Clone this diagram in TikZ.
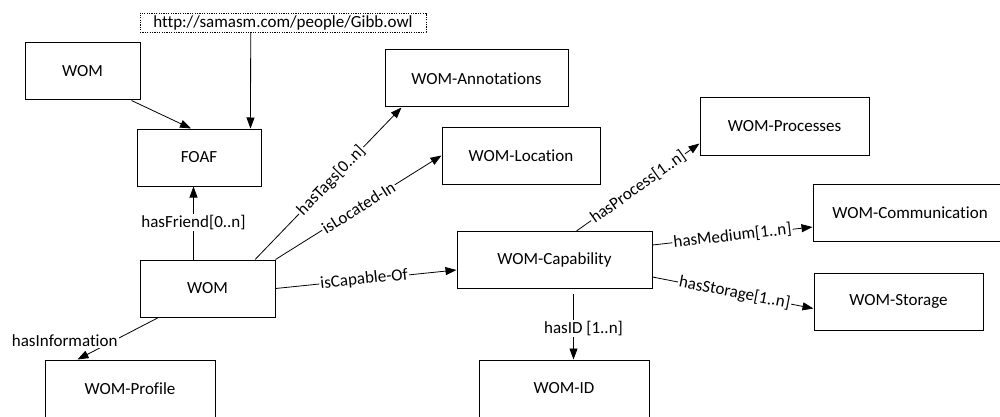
\documentclass[tikz,border=0pt]{standalone}
\usepackage{fontspec}
\setmainfont{Carlito}[Ligatures=NoCommon]
\usetikzlibrary{arrows.meta,calc}
\begin{document}
\begin{tikzpicture}[x=1pt,y=-1pt,
  box/.style={draw=black,line width=1pt,fill=white,minimum height=57pt,inner sep=0pt,
    font=\fontsize{17}{20}\selectfont},
  urlbox/.style={draw=black,line width=0.6pt,dash pattern=on 1.2pt off 1.2pt,minimum height=19pt,inner sep=0pt,
    font=\fontsize{17}{20}\selectfont},
  conn/.style={line width=0.8pt,-{Triangle[length=11pt,width=8pt]}},
  lbl/.style={fill=white,inner sep=1.2pt,font=\fontsize{17}{20}\selectfont},
]
\useasboundingbox (0,0) rectangle (1000,417);
% boxes
\node[box,minimum width=115pt] (wom1) at (82.5,71.5) {WOM};
\node[urlbox,minimum width=286pt] (url) at (283,22.5) {http://samasm.com/people/Gibb.owl};
\node[box,minimum width=124pt] (foaf) at (199,157.5) {FOAF};
\node[box,minimum width=183pt] (ann) at (476.5,78.5) {WOM-Annotations};
\node[box,minimum width=158pt] (loc) at (521,155.5) {WOM-Location};
\node[box,minimum width=169pt] (proc) at (784.5,126.5) {WOM-Processes};
\node[box,minimum width=194pt] (comm) at (910,212.5) {WOM-Communication};
\node[box,minimum width=195pt] (cap) at (554.5,260) {WOM-Capability};
\node[box,minimum width=169pt] (stor) at (898.5,301.5) {WOM-Storage};
\node[box,minimum width=170pt] (wid) at (564,388.5) {WOM-ID};
\node[box,minimum width=135pt] (wom) at (207.5,288.5) {WOM};
\node[box,minimum width=170pt] (prof) at (130,388.5) {WOM-Profile};
% connectors
\draw[conn] ($(wom1.south east)+(-9,0)$) -- ($(foaf.north)+(-8,0)$);
\draw[conn] ($(url.south west)+(111,0)$) -- ($(foaf.north west)+(114,0)$);
\draw[conn] ($(wom.north west)+(54,0)$) -- node[lbl,pos=0.51] {hasFriend[0..n]} ($(foaf.south west)+(57,0)$);
\draw[conn] ($(wom.south west)+(19,0)$) -- node[lbl,pos=0.56,anchor=east,xshift=6pt] {hasInformation} ($(prof.north west)+(33,0)$);
\draw[conn] ($(wom.north west)!0.85!(wom.north east)$) -- node[lbl,pos=0.52,sloped] {hasTags[0..n]} ($(ann.south west)+(17,0)$);
\draw[conn] (wom.north east) -- node[lbl,pos=0.5,sloped] {isLocated-In} (loc.west);
\draw[conn] (wom.east) -- node[lbl,pos=0.49,sloped] {isCapable-Of} ($(cap.west)+(0,10)$);
\draw[conn] ($(cap.north west)+(120,0)$) -- node[lbl,pos=0.5,sloped] {hasProcess[1..n]} ($(proc.south west)+(0,-12)$);
\draw[conn] ($(cap.north east)+(0,14)$) -- node[lbl,pos=0.5,sloped] {hasMedium[1..n]} ($(comm.west)+(0,14.5)$);
\draw[conn] ($(cap.north east)+(0,46)$) -- node[lbl,pos=0.51,sloped] {hasStorage[1..n]} ($(stor.west)+(0,7)$);
\draw[conn] ($(cap.south west)+(117,5)$) -- node[lbl,pos=0.52,xshift=10pt] {hasID [1..n]} ($(wid.north west)+(95,0)$);
\end{tikzpicture}
\end{document}
